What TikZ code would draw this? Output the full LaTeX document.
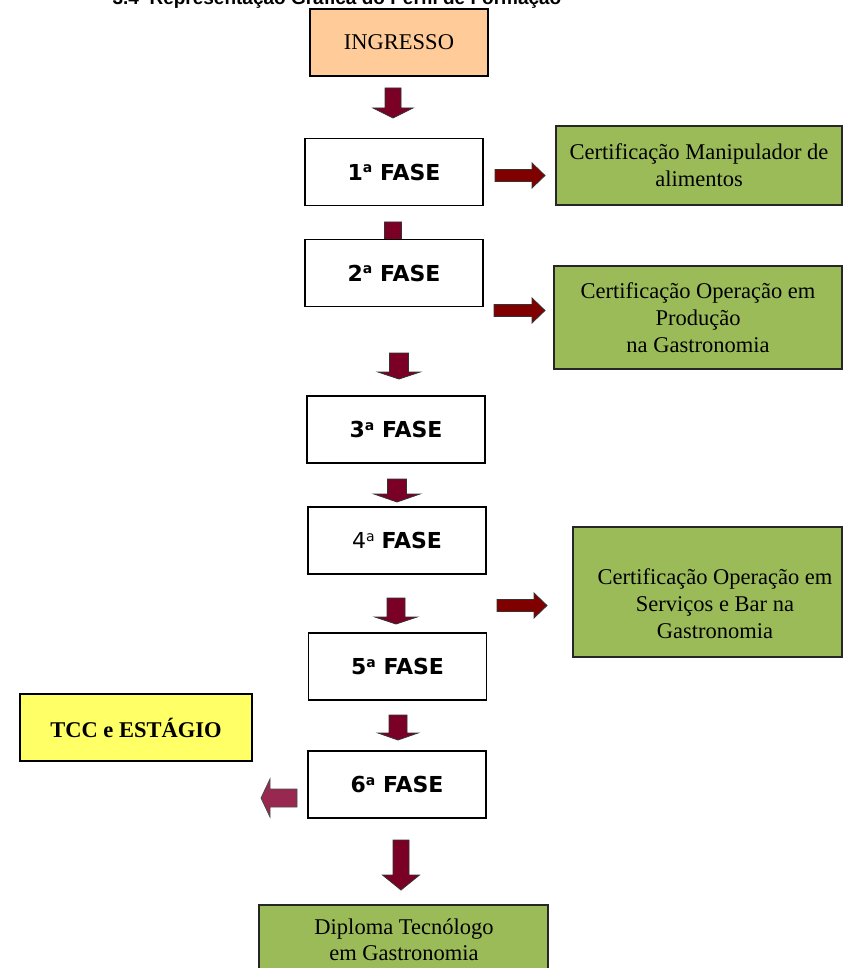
\documentclass[tikz,border=0pt]{standalone}
\usepackage{fontspec}
\setmainfont{Liberation Serif}
\newfontfamily\verd{DejaVu Sans}
\newfontfamily\arialf{Liberation Sans}
\definecolor{peach}{HTML}{FFCC99}
\definecolor{certgreen}{HTML}{9BBB59}
\definecolor{tccyellow}{HTML}{FFFF66}
\definecolor{arrred}{RGB}{123,0,38}
\definecolor{rarrred}{RGB}{128,0,0}
\definecolor{larrred}{RGB}{153,40,80}
\newcommand\ordA{\raisebox{0.62ex}{\fontsize{14}{14}\selectfont a}}
\tikzset{
  box/.style={draw=black, line width=1.5pt, rectangle, inner sep=0pt},
  fase/.style={box, fill=white, minimum width=178pt, minimum height=67pt,
    font=\verd\fontsize{22}{26}\selectfont},
  cert/.style={box, fill=certgreen, draw=black!85, align=center,
    font=\fontsize{22.5}{27}\selectfont},
  darr/.style={fill=arrred, draw=black!80, line width=0.8pt},
  rarr/.style={fill=rarrred, draw=black!80, line width=0.8pt},
  larr/.style={fill=larrred, draw=black!70, line width=0.8pt},
}
% cx, top, headstart, tip, shaft half, head half
\newcommand\myDownArr[7][darr]{%
  \draw[#1] (#2-#6,#3) -- (#2+#6,#3) -- (#2+#6,#4) -- (#2+#7,#4) -- (#2,#5)
    -- (#2-#7,#4) -- (#2-#6,#4) -- cycle;}
% cy, start, headstart, tip, shaft half, head half
\newcommand\myHorArr[7][rarr]{%
  \draw[#1] (#3,#2-#6) -- (#4,#2-#6) -- (#4,#2-#7) -- (#5,#2) -- (#4,#2+#7)
    -- (#4,#2+#6) -- (#3,#2+#6) -- cycle;}
\begin{document}
\begin{tikzpicture}[x=1pt,y=-1pt]
\useasboundingbox (0,0) rectangle (843,968);

% title (cut off at the top, as in the original page)
\node[font=\arialf\bfseries\fontsize{19}{22}\selectfont, anchor=base, inner sep=0pt]
  (title) at (337,5) {3.4\ \ Representação Gráfica do Perfil de Formação};

% block arrows (drawn first so that boxes cover them)
\myDownArr{393}{88}{108}{118}{8}{20}
\myDownArr{393}{222}{250}{260}{8.5}{20}
\myDownArr{399}{353}{372}{379}{9.5}{21}
\myDownArr{397}{479}{494}{502}{9.5}{23}
\myDownArr{396}{598}{617}{624}{9}{21}
\myDownArr{398}{715}{733}{740}{9}{20}
\myDownArr{401}{840}{875}{890}{8}{18.5}
\myHorArr{175.5}{495}{532}{545}{6}{12.5}
\myHorArr{310.5}{494}{532}{545}{6}{12.5}
\myHorArr{605.5}{497}{534}{547}{6}{12.5}
\myHorArr[larr]{798}{297}{270}{261}{9}{19}

% boxes
\node[box, fill=peach, minimum width=178pt, minimum height=67pt,
  font=\fontsize{22.5}{26}\selectfont] (ing) at (399,42.5) {INGRESSO};
\node[fase] (f1) at (394,172) {\bfseries 1\ordA\ FASE};
\node[fase] (f2) at (394,273) {\bfseries 2\ordA\ FASE};
\node[fase] (f3) at (396,429.5) {\bfseries 3\ordA\ FASE};
\node[fase] (f4) at (397,540.5) {4\ordA\ \bfseries FASE};
\node[fase] (f5) at (397.5,666.5) {\bfseries 5\ordA\ FASE};
\node[fase] (f6) at (397,784.5) {\bfseries 6\ordA\ FASE};

\node[cert, minimum width=286pt, minimum height=79pt] (g1) at (699,165.5)
  {Certificação Manipulador de\\alimentos};
\node[cert, minimum width=288pt, minimum height=103pt] (g2) at (698,317.5)
  {Certificação Operação em\\Produção\\na Gastronomia};
\node[cert, minimum width=269pt, minimum height=130pt] (g3) at (707.5,592) {};
\node[align=center, font=\fontsize{22.5}{27}\selectfont, inner sep=0pt] (g3t)
  at (715,604) {Certificação Operação em\\Serviços e Bar na\\Gastronomia};

\node[box, fill=tccyellow, minimum width=232pt, minimum height=67pt,
  font=\bfseries\fontsize{22.5}{26}\selectfont] (tcc) at (136,727.5) {TCC e ESTÁGIO};

\node[cert, minimum width=289pt, minimum height=80pt] (dip) at (403.5,945) {};
\node[align=center, font=\fontsize{22.5}{26}\selectfont, inner sep=0pt] (dipt)
  at (404,940) {Diploma Tecnólogo\\em Gastronomia};
\end{tikzpicture}
\end{document}
